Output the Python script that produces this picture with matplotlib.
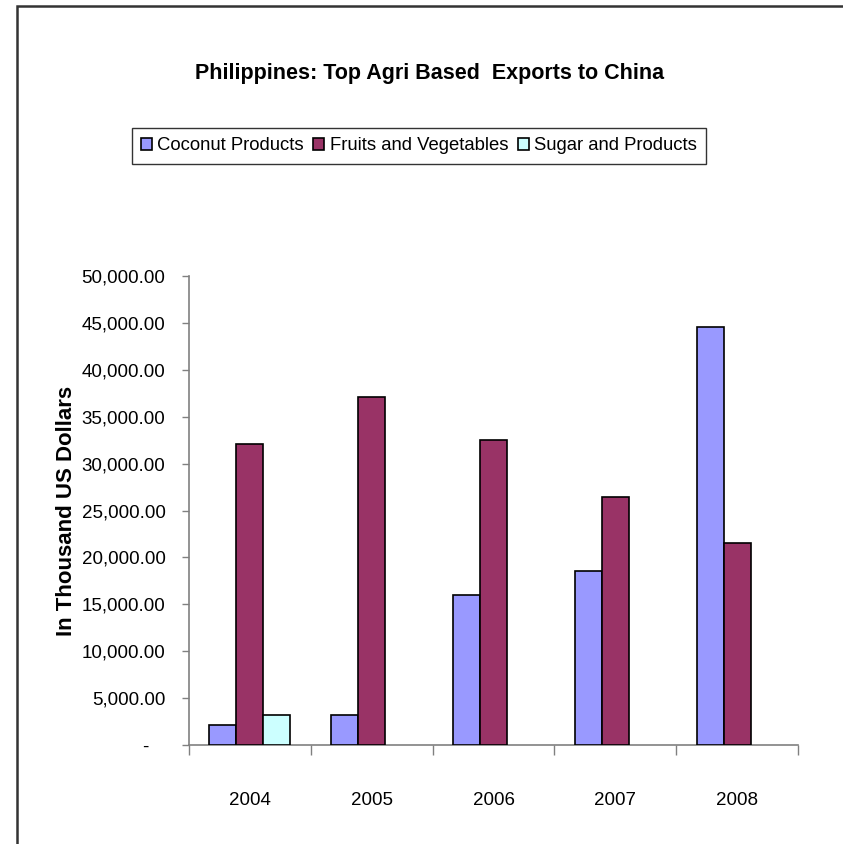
import matplotlib
matplotlib.use("Agg")
import matplotlib.pyplot as plt
from matplotlib.patches import Rectangle
import numpy as np

plt.rcParams['font.family'] = ['Liberation Sans', 'DejaVu Sans']

years = ["2004", "2005", "2006", "2007", "2008"]
coconut = [2180, 3240, 15960, 18520, 44560]
fruits = [32120, 37130, 32550, 26400, 21540]
sugar = [3240, 0, 0, 0, 0]
series_names = ["Coconut Products", "Fruits and Vegetables", "Sugar and Products"]
series_colors = ["#9999FF", "#993366", "#CCFFFF"]
ytick_vals = [0, 5000, 10000, 15000, 20000, 25000, 30000, 35000, 40000, 45000, 50000]

fig = plt.figure(figsize=(8.43, 8.44), dpi=100)

# outer chart frame (runs off the right and bottom of the picture)
fig.patches.append(Rectangle((17 / 843, -0.05), 1.2, 1 - 6 / 844 + 0.05,
                             transform=fig.transFigure, fill=False,
                             edgecolor="#333333", linewidth=1.8))

ax = fig.add_axes([189 / 843, 1 - 745 / 844, (798 - 189) / 843, (745 - 276) / 844])

x = np.arange(len(years))
w = 0.222
for i, (vals, name, col) in enumerate(zip([coconut, fruits, sugar], series_names, series_colors)):
    xs = [xx + (i - 1) * w for xx, v in zip(x, vals) if v > 0]
    hs = [v for v in vals if v > 0]
    ax.bar(xs, hs, width=w, color=col, edgecolor="black", linewidth=1.2, label=name, zorder=3)

ax.set_xlim(-0.5, len(years) - 0.5)
ax.set_ylim(0, 50000)

ax.set_yticks(ytick_vals)
ax.set_yticklabels(["-   "] + [f"{v:,.2f}" for v in ytick_vals[1:]])
ax.tick_params(axis='y', length=5, width=1, color="#808080", pad=12, labelsize=13.5)

ax.set_xticks(x)
ax.set_xticklabels(years)
ax.tick_params(axis='x', which='major', length=0, pad=34, labelsize=13.5)
ax.set_xticks(np.arange(-0.5, len(years)), minor=True)
ax.tick_params(axis='x', which='minor', length=7, width=1, color="#808080", direction="out")

for s in ["top", "right"]:
    ax.spines[s].set_visible(False)
for s in ["left", "bottom"]:
    ax.spines[s].set_color("#808080")
    ax.spines[s].set_linewidth(1.2)

fig.text(66 / 843, 1 - 511 / 844, "In Thousand US Dollars", rotation=90,
         ha="center", va="center", fontsize=16, fontweight="bold")

fig.text(430 / 843, 1 - 73 / 844, "Philippines: Top Agri Based  Exports to China",
         ha="center", va="center", fontsize=15.5, fontweight="bold")

leg = fig.legend(loc="center", bbox_to_anchor=(419 / 843, 1 - 146 / 844), ncol=3,
                 fontsize=13.3, frameon=True, fancybox=False, edgecolor="black",
                 handlelength=0.6, handleheight=0.6, handletextpad=0.3,
                 columnspacing=0.5, borderpad=0.5)
leg.get_frame().set_linewidth(1.0)

fig.savefig("out.png", dpi=100)
